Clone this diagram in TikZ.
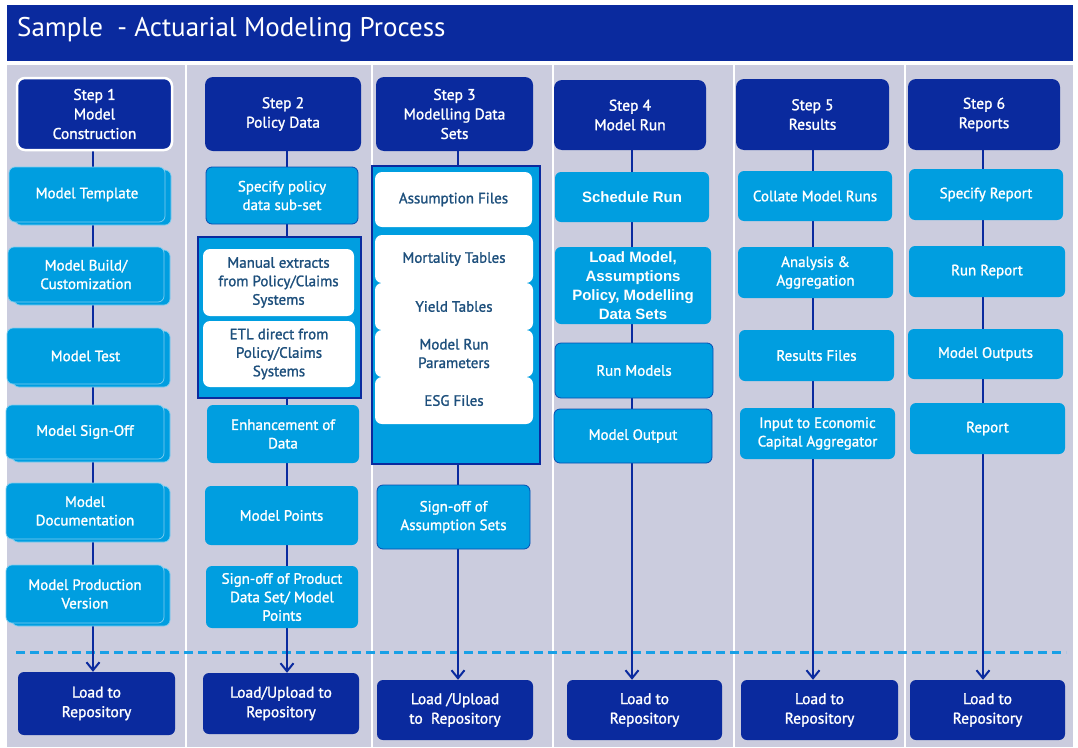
\documentclass[tikz,border=0pt]{standalone}
\usepackage{fontspec}
\setmainfont{PT Sans}[FakeBold=1.3]
\newfontfamily\titlefont{PT Sans}
\newfontfamily\arialfont{Liberation Sans}
\usetikzlibrary{arrows.meta,shadows}
\definecolor{navy}{HTML}{0A2A9E}
\definecolor{sky}{HTML}{009EE0}
\definecolor{graybg}{HTML}{CBCCDE}
\definecolor{wtext}{HTML}{1D4F7C}
\definecolor{dashblue}{HTML}{18A0E6}
\pgfdeclarelayer{bg}\pgfdeclarelayer{lines}
\pgfsetlayers{bg,lines,main}
\newcommand\bx[7]{\node[#1,minimum width={(#5-#3)*1pt},minimum height={(#6-#4)*1pt}] (#2) at ({(#3+#5)/2},{(#4+#6)/2}) {#7};}
\tikzset{
 base/.style={inner sep=0pt, align=center, font=\fontsize{15}{18.5}\selectfont},
 lbox/.style={base, fill=sky, rounded corners=6pt, text=white},
 fold/.style={lbox, draw=white!50!sky, line width=0.7pt,
   copy shadow={shadow xshift=6pt, shadow yshift=-3pt, fill=sky, draw=white!50!sky, line width=0.7pt}},
 edged/.style={lbox, draw=navy!70!sky, line width=0.8pt},
 hbox/.style={base, fill=navy, rounded corners=8pt, text=white, font=\fontsize{15.5}{19.5}\selectfont},
 loadbox/.style={hbox, rounded corners=6pt},
 wbox/.style={base, fill=white, rounded corners=7pt, text=wtext},
 grp/.style={fill=sky, draw=navy, line width=1.5pt, inner sep=0pt},
 abox/.style={lbox, font=\arialfont\bfseries\fontsize{15}{19}\selectfont},
 conn/.style={draw=navy, line width=2pt},
 arr/.style={conn, -{Straight Barb[length=8pt,width=13pt]}},
 dashln/.style={draw=dashblue, line width=3pt, dash pattern=on 9pt off 5pt},
}
\begin{document}
\begin{tikzpicture}[x=1pt,y=-1pt]
\useasboundingbox (0,0) rectangle (1078,747);
\begin{pgfonlayer}{bg}
\fill[white] (0,0) rectangle (1078,747);
\fill[navy] (7,5) rectangle (1073,61);
\fill[graybg] (7,65) rectangle (1073,747);
\foreach \sx in {186,372,553,734,905} \fill[white] (\sx-1,65) rectangle (\sx+1.2,747);
\end{pgfonlayer}
\node[anchor=west, text=white, inner sep=0pt, font=\titlefont\fontsize{27}{30}\selectfont] (title) at (17,30) {Sample\ \ - Actuarial Modeling Process};

% Column 1
\bx{hbox, draw=white, line width=2.5pt}{h1}{17}{78}{172}{150}{Step 1\\Model\\Construction}
\bx{fold}{t1}{9}{167}{165}{222}{Model Template}
\bx{fold}{b1}{8}{247}{164}{302}{Model Build/\\Customization}
\bx{fold}{te1}{7}{328}{164}{384}{Model Test}
\bx{fold}{s1}{6}{405}{164}{459}{Model Sign-Off}
\bx{fold}{d1}{6}{483}{164}{539}{Model\\Documentation}
\bx{fold}{p1}{6}{565}{164}{623}{Model Production\\Version}
\bx{loadbox}{L1}{18}{672}{175}{735}{Load to\\Repository}

% Column 2
\bx{hbox}{h2}{205}{77}{361}{151}{Step 2\\Policy Data}
\bx{edged}{sp2}{206}{167}{358}{224}{Specify policy\\data sub-set}
\bx{grp}{g2}{198}{237}{361}{398}{}
\bx{wbox}{m2}{203}{249}{354}{316}{Manual extracts\\from Policy/Claims\\Systems}
\bx{wbox}{e2}{203}{321}{355}{387}{ETL direct from\\Policy/Claims\\Systems}
\bx{lbox}{en2}{207}{405}{359}{463}{Enhancement of\\Data}
\bx{lbox}{mp2}{205}{486}{358}{545}{Model Points}
\bx{lbox}{so2}{206}{566}{358}{628}{Sign-off of Product\\Data Set/ Model\\Points}
\bx{loadbox}{L2}{203}{673}{359}{734}{Load/Upload to\\Repository}

% Column 3
\bx{hbox}{h3}{376}{77}{533}{151}{Step 3\\Modelling Data\\Sets}
\bx{grp}{g3}{372}{166}{540}{464}{}
\bx{wbox}{af3}{375}{172}{532}{227}{Assumption Files}
\bx{wbox}{mt3}{375}{235}{533}{283}{Mortality Tables}
\bx{wbox}{yt3}{375}{283}{533}{330}{Yield Tables}
\bx{wbox}{mr3}{375}{330}{533}{377}{Model Run\\Parameters}
\bx{wbox}{es3}{375}{377}{533}{424}{ESG Files}
\bx{edged}{sa3}{377}{485}{530}{549}{Sign-off of\\Assumption Sets}
\bx{loadbox}{L3}{377}{680}{533}{740}{Load /Upload\\to\ \ Repository}

% Column 4
\bx{hbox}{h4}{554}{80}{706}{150}{Step 4\\Model Run}
\bx{abox}{sr4}{555}{172}{709}{222}{Schedule Run}
\bx{abox}{lm4}{555}{247}{711}{324}{Load Model,\\Assumptions\\Policy, Modelling\\Data Sets}
\bx{edged}{rm4}{555}{343}{713}{398}{Run Models}
\bx{edged}{mo4}{554}{409}{712}{463}{Model Output}
\bx{loadbox}{L4}{567}{680}{722}{740}{Load to\\Repository}

% Column 5
\bx{hbox}{h5}{736}{79}{889}{150}{Step 5\\Results}
\bx{lbox}{c5}{738}{171}{892}{221}{Collate Model Runs}
\bx{lbox}{a5}{738}{247}{893}{298}{Analysis \&\\Aggregation}
\bx{lbox}{r5}{739}{330}{894}{381}{Results Files}
\bx{lbox}{i5}{740}{408}{895}{459}{Input to Economic\\Capital Aggregator}
\bx{loadbox}{L5}{741}{680}{898}{740}{Load to\\Repository}

% Column 6
\bx{hbox}{h6}{908}{79}{1060}{150}{Step 6\\Reports}
\bx{lbox}{s6}{909}{169}{1063}{220}{Specify Report}
\bx{lbox}{rr6}{909}{246}{1065}{297}{Run Report}
\bx{lbox}{mo6}{908}{329}{1063}{379}{Model Outputs}
\bx{lbox}{rp6}{910}{403}{1065}{454}{Report}
\bx{loadbox}{L6}{910}{680}{1065}{740}{Load to\\Repository}

\coordinate (x1) at (93,0);
\coordinate (x2) at (287,0);
\coordinate (x3) at (458,0);
\coordinate (x4) at (632,0);
\coordinate (x5) at (813,0);
\coordinate (x6) at (983,0);
\coordinate (dl) at (16,652);
\coordinate (dr) at (1066,652);
\begin{pgfonlayer}{lines}
\draw[dashln] (dl) -- (dr);
\foreach \i in {1,...,6} \draw[arr] (h\i.south -| x\i) -- (L\i.north -| x\i);
\end{pgfonlayer}
\end{tikzpicture}
\end{document}
